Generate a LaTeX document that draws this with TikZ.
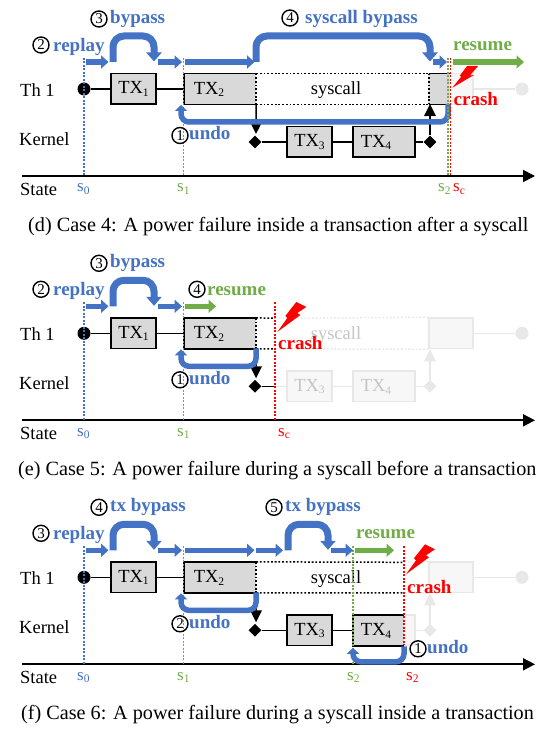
\documentclass[tikz,border=0pt]{standalone}
\usepackage{fontspec}
\setmainfont{Liberation Serif}
\usetikzlibrary{arrows.meta,shapes.geometric}
\definecolor{bl}{HTML}{4472C4}
\definecolor{gn}{HTML}{70AD47}
\definecolor{gy}{HTML}{D9D9D9}
\definecolor{gh}{HTML}{E8E8E8}
\definecolor{ghf}{HTML}{F7F7F7}
\newcommand\fsz[1]{\fontsize{#1}{#1}\selectfont}
\newcommand\subt[1]{\raisebox{-2.5pt}{\fsz{11.5}#1}}
\newcommand\seg[4]{\coordinate (#2a) at (#3); \coordinate (#2b) at (#4); \draw[#1] (#2a) -- (#2b);}
\tikzset{
  x=1pt,y=-1pt,
  lab/.style={anchor=base west,inner sep=0,font=\fsz{18.5}},
  captxt/.style={anchor=base west,inner sep=0,font=\fsz{20.2}},
  act/.style={anchor=base west,inner sep=0,font=\fsz{19}\bfseries,text=bl},
  actg/.style={act,text=gn},
  actr/.style={act,text=red},
  stt/.style={anchor=base west,inner sep=0,font=\fsz{17}},
  numc/.style={circle,draw=black,line width=1.4,minimum size=16,inner sep=0,font=\fsz{15}},
  boxn/.style={rectangle,inner sep=0,minimum height=30.5,font=\fsz{18.5}},
  txbox/.style={boxn,draw=black,fill=gy,line width=1.5},
  ghbox/.style={boxn,draw=gh,fill=ghf,line width=1.5,text=gh!85!black},
  fillbox/.style={boxn,fill=gy},
  thinl/.style={draw=black,line width=1.5},
  ghl/.style={draw=gh,line width=1.5},
  dotl/.style={draw=black,line width=1.5,dash pattern=on 1.8pt off 1.9pt},
  ghdots/.style={draw=gh,line width=1.5,dash pattern=on 1.8pt off 1.9pt},
  vdb/.style={draw=bl,line width=1.5,dash pattern=on 1.8pt off 1.7pt},
  vdg/.style={draw=gn,line width=1.5,dash pattern=on 1.8pt off 1.7pt},
  vdr/.style={draw=red,line width=1.5,dash pattern=on 1.8pt off 1.7pt},
  blar/.style={draw=bl,line width=5.5,-{Triangle[length=7.5pt,width=13pt]}},
  gnar/.style={draw=gn,line width=5.5,-{Triangle[length=7.5pt,width=13pt]}},
  bendar/.style={draw=bl,line width=7,rounded corners=11pt,-{Triangle[length=9pt,width=15pt]}},
  undoar/.style={draw=bl,line width=5.5,rounded corners=8pt,-{Triangle[length=6pt,width=12pt]}},
  bkar/.style={draw=black,line width=1.5,-{Triangle[length=12pt,width=11.5pt]}},
  gkar/.style={draw=gh,line width=1.5,-{Triangle[length=12pt,width=11.5pt]}},
  axisar/.style={draw=black,line width=1.7,-{Triangle[length=12pt,width=12pt]}},
  dmd/.style={diamond,fill=black,inner sep=0,minimum size=13},
  gdmd/.style={dmd,fill=gh},
  dotn/.style={circle,fill=black,inner sep=0,minimum size=13},
  gdot/.style={dotn,fill=gh},
}
% ghost parts common to every panel
\newcommand\ghostright{%
  \node[ghbox,minimum width=44] (gend) at (451,89) {};
  \node[gdot] (gd) at (522,89) {};
  \draw[ghl] (gend) -- (gd);
  \node[gdmd] (gdm) at (430,142) {};
  \draw[gkar] (gdm) -- (gend.south west -| gdm);
}
% items common to every panel
\newcommand\common{%
  \node[lab] (th) at (20,96.5) {Th 1};
  \node[lab] (ke) at (19,145.5) {Kernel};
  \node[lab] (sta) at (20,195.5) {State};
  \node[dotn] (dot) at (84,89) {};
  \node[txbox,minimum width=45] (tx1) at (133.5,89) {TX\subt{1}};
  \node[fillbox,minimum width=72] (tx2) at (220,89) {};
  \node[lab,anchor=center] (tx2t) at (209,89.5) {TX\subt{2}};
  \draw[thinl] (dot) -- (tx1);
  \draw[thinl] (tx1) -- (tx2);
  \draw[thinl] (tx2.north east) -- (tx2.north west) -- (tx2.south west) -- (tx2.south east);
  \draw[dotl] (tx2.north east) -- (tx2.south east);
  \node[dmd] (dl) at (255,142) {};
  \draw[bkar] (tx2.south east) -- (256,134);
  \seg{axisar}{ax}{22,176}{535,176}
  \seg{vdb}{vb}{84,58}{84,176}
  \seg{vdg}{vg}{183.5,58}{183.5,176}
  \node[stt,text=bl] (s0) at (77,192) {s\subt{0}};
  \node[stt,text=gn] (s1) at (177,192) {s\subt{1}};
  \seg{blar}{ra}{86,62}{108.5,62}
  \coordinate (bya) at (113,62); \coordinate (byb) at (154,61.5);
  \draw[bendar] (bya) -- (113,36) -- (154,36) -- (byb);
  \seg{blar}{rb}{158,62}{182,62}
}
\newcommand\bolt[1]{\fill[red,shift={(#1)}] (0,0) -- (10,-14) -- (8,-16) -- (19,-30) -- (29,-25) -- (20,-19) -- (23,-17) -- cycle;}
\begin{document}
\begin{tikzpicture}
\useasboundingbox (0,0) rectangle (549,735);
\fill[white] (0,0) rectangle (549,735);
%% panel d
\begin{scope}[name prefix=d-]
  \ghostright
  \common
  \node[fillbox,minimum width=21] (end) at (439.5,89) {};
  \coordinate (scn) at (tx2.north east); \coordinate (scs) at (tx2.south east);
  \draw[dotl] (scn) -- (end.north west);
  \draw[dotl] (scs) -- (end.south west);
  \draw[thinl] (end.north west) -- (end.north east);
  \draw[thinl] (end.south west) -- (end.south east);
  \draw[dotl] (end.north west) -- (end.south west);
  \node[lab,anchor=base] (sc) at (336,95) {syscall};
  \node[txbox,minimum width=45] (tx3) at (309.5,142) {TX\subt{3}};
  \node[txbox,minimum width=62] (tx4) at (384,142) {};
  \node[lab,anchor=center] (tx4t) at (376,142.5) {TX\subt{4}};
  \node[dmd] (dr) at (430,142) {};
  \draw[thinl] (dl) -- (tx3);
  \draw[thinl] (tx3) -- (tx4);
  \draw[thinl] (tx4) -- (dr);
  \draw[bkar] (dr) -- (430,104);
  \coordinate (ua) at (448,104); \coordinate (ub) at (181,105);
  \draw[undoar] (ua) -- (448,122) -- (181,122) -- (ub);
  \seg{vdg}{vg2}{448,58}{448,176}
  \seg{vdr}{vr}{450.5,58}{450.5,176}
  \seg{blar}{rc}{185,62}{254.5,62}
  \coordinate (sba) at (256,62); \coordinate (sbb) at (430,61.5);
  \draw[bendar] (sba) -- (256,36) -- (430,36) -- (sbb);
  \seg{blar}{rd}{433,62}{447,62}
  \seg{gnar}{re}{453,62}{524,62}
  \fill[red] (452.3,87.7) -- (461,77) -- (460,75.5) -- (467,66) -- (478,66) -- (470,75.5) -- (474,75) -- cycle;
  \node[numc] (n2) at (41,45) {2};
  \node[act] (tr) at (53,51.5) {replay};
  \node[numc] (n3) at (99,19) {3};
  \node[act] (tb) at (110,23.5) {bypass};
  \node[numc] (n4) at (290,18) {4};
  \node[act] (ts) at (305,24) {syscall bypass};
  \node[actg] (tg) at (453,51) {resume};
  \node[numc] (n1) at (180,135.5) {1};
  \node[act] (tu) at (189,140) {undo};
  \node[actr] (tc) at (453.5,105.5) {crash};
  \node[stt,text=gn] (s2) at (438,192) {s\subt{2}};
  \node[stt,text=red] (sc2) at (453,192) {s\subt{c}};
  \node[captxt] (cd) at (28,231) {(d) Case 4: A power failure inside a transaction after a syscall};
\end{scope}
%% panel e
\begin{scope}[yshift=-244.3pt,name prefix=e-]
  \ghostright
  \node[ghbox,minimum width=45] (tx3) at (309.5,142) {TX\subt{3}};
  \node[ghbox,minimum width=62] (tx4) at (384,142) {};
  \node[lab,anchor=center,text=gh!85!black] (tx4t) at (376,142.5) {TX\subt{4}};
  \draw[ghl] (tx3) -- (tx4);
  \draw[ghl] (tx4) -- (gdm);
  \coordinate (g1) at (275,74); \coordinate (g2) at (275,104.5);
  \coordinate (gk) at (275,142);
  \draw[ghl] (gk) -- (tx3);
  \draw[ghdots] (g1) -- (gend.north west);
  \draw[ghdots] (g2) -- (gend.south west);
  \draw[ghdots] (gend.north west) -- (gend.south west);
  \node[lab,anchor=base,text=gh!85!black] (sc) at (336,95) {syscall};
  \common
  \draw[dotl] (tx2.north east) -- (g1);
  \draw[dotl] (tx2.south east) -- (g2);
  \draw[thinl] (dl) -- (gk);
  \coordinate (ua) at (256,104); \coordinate (ub) at (181,105);
  \draw[undoar] (ua) -- (256,122) -- (181,122) -- (ub);
  \seg{vdr}{vr}{275,58}{275,176}
  \seg{gnar}{re}{185,62}{216,62}
  \bolt{277.3,87.7}
  \node[numc] (n2) at (41,45) {2};
  \node[act] (tr) at (53,51.5) {replay};
  \node[numc] (n3) at (99,19) {3};
  \node[act] (tb) at (110,23.5) {bypass};
  \node[numc] (n4) at (197,45) {4};
  \node[actg] (tg) at (207,51.5) {resume};
  \node[numc] (n1) at (180,135.5) {1};
  \node[act] (tu) at (189,140) {undo};
  \node[actr] (tc) at (278,105.5) {crash};
  \node[stt,text=red] (sc2) at (278,192) {s\subt{c}};
  \node[captxt] (cd) at (18,231) {(e) Case 5: A power failure during a syscall before a transaction};
\end{scope}
%% panel f
\begin{scope}[yshift=-488.3pt,name prefix=f-]
  \ghostright
  \node[ghbox,minimum width=62] (gtx4) at (384,142) {};
  \draw[ghl] (gtx4) -- (gdm);
  \coordinate (g1) at (404,74); \coordinate (g2) at (404,104.5);
  \draw[ghdots] (g1) -- (gend.north west);
  \draw[ghdots] (g2) -- (gend.south west);
  \draw[ghdots] (gend.north west) -- (gend.south west);
  \common
  \draw[dotl] (tx2.north east) -- (g1);
  \draw[dotl] (tx2.south east) -- (g2);
  \node[lab,anchor=base] (sc) at (336,95) {syscall};
  \node[txbox,minimum width=45] (tx3) at (309.5,142) {TX\subt{3}};
  \node[fillbox,minimum width=51] (tx4) at (378.5,142) {};
  \node[lab,anchor=center] (tx4t) at (376,142.5) {TX\subt{4}};
  \draw[thinl] (tx4.north east) -- (tx4.north west) -- (tx4.south west) -- (tx4.south east);
  \draw[thinl] (dl) -- (tx3);
  \draw[thinl] (tx3) -- (tx4);
  \coordinate (ub) at (181,105);
  \coordinate (u2a) at (256,104);
  \draw[undoar] (u2a) -- (256,122) -- (181,122) -- (ub);
  \seg{vdg}{vg2}{353,58}{353,176}
  \seg{vdr}{vr}{404,58}{404,157}
  \coordinate (uta) at (404,158); \coordinate (utb) at (353,159.5);
  \draw[undoar] (uta) -- (404,173.5) -- (353,173.5) -- (utb);
  \seg{blar}{rc}{185,62}{254.5,62}
  \seg{blar}{rd}{256,62}{283,62}
  \coordinate (sba) at (288,62); \coordinate (sbb) at (328,61.5);
  \draw[bendar] (sba) -- (288,36) -- (328,36) -- (sbb);
  \seg{blar}{rf}{331,62}{353,62}
  \seg{gnar}{re}{355,62}{394,62}
  \bolt{406,86}
  \node[numc] (n3) at (41,45) {3};
  \node[act] (tr) at (53,51.5) {replay};
  \node[numc] (n4) at (99,19) {4};
  \node[act] (tb) at (110,23.5) {tx bypass};
  \node[numc] (n5) at (274,19) {5};
  \node[act] (tb2) at (285,23.5) {tx bypass};
  \node[actg] (tg) at (356,50) {resume};
  \node[numc] (n2) at (180,135.5) {2};
  \node[act] (tu) at (189,140) {undo};
  \node[numc] (n1) at (418,160.5) {1};
  \node[act] (tu2) at (427,165) {undo};
  \node[actr] (tc) at (407,105.5) {crash};
  \node[stt,text=gn] (s2) at (347,192) {s\subt{2}};
  \node[stt,text=red] (s3) at (406,192) {s\subt{2}};
  \node[captxt] (cd) at (21,231) {(f) Case 6: A power failure during a syscall inside a transaction};
\end{scope}
\end{tikzpicture}
\end{document}
